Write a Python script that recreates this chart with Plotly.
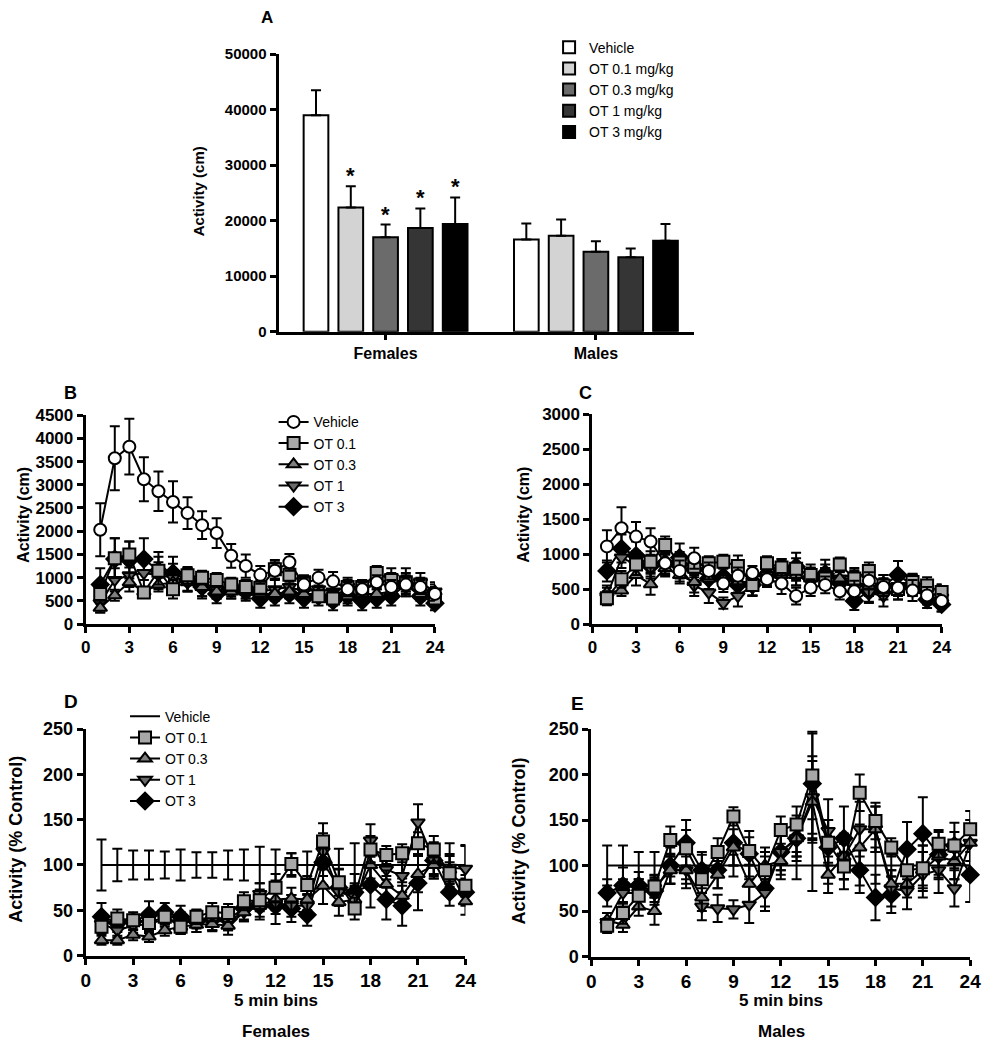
import plotly.graph_objects as go

# ---------------- data ----------------
groups = ["Females", "Males"]
group_pos = [0, 1]
bar_names = ["Vehicle", "OT 0.1 mg/kg", "OT 0.3 mg/kg", "OT 1 mg/kg", "OT 3 mg/kg"]
bar_vehicle = [39000, 16600]
bar_vehicle_err = [4500, 2900]
bar_ot01 = [22400, 17300]
bar_ot01_err = [3800, 2900]
bar_ot03 = [17000, 14400]
bar_ot03_err = [2300, 1900]
bar_ot1 = [18700, 13400]
bar_ot1_err = [3500, 1600]
bar_ot3 = [19400, 16400]
bar_ot3_err = [4800, 3000]
sig_females = [False, True, True, True, True]

bins = list(range(1, 25))
line_names = ["Vehicle", "OT 0.1", "OT 0.3", "OT 1", "OT 3"]

# Panel B: females, cm
veh_B = [2030, 3570, 3820, 3120, 2860, 2630, 2390, 2130, 1960, 1470, 1250, 1060, 1150, 1330, 850, 1000, 920, 750, 750, 900, 800, 850, 800, 650]
veh_B_err = [570, 690, 600, 475, 425, 445, 340, 300, 320, 255, 250, 190, 180, 180, 150, 170, 200, 150, 150, 150, 150, 150, 150, 150]
ot01_B = [650, 1420, 1500, 680, 1150, 750, 1050, 1000, 950, 850, 800, 780, 1180, 1060, 900, 600, 550, 800, 800, 1100, 950, 900, 850, 550]
ot01_B_err = [150, 430, 280, 120, 300, 200, 180, 150, 150, 130, 150, 150, 200, 150, 150, 120, 150, 150, 150, 150, 150, 300, 150, 120]
ot03_B = [350, 620, 900, 700, 850, 900, 900, 800, 700, 700, 700, 650, 650, 700, 650, 650, 600, 600, 650, 650, 700, 850, 650, 700]
ot03_B_err = [100, 120, 200, 100, 150, 150, 180, 200, 150, 150, 150, 150, 150, 150, 150, 150, 150, 150, 150, 150, 150, 150, 150, 150]
ot1_B = [450, 950, 1050, 1100, 1050, 1000, 950, 850, 750, 800, 750, 700, 750, 800, 700, 750, 700, 800, 750, 850, 1000, 850, 900, 700]
ot1_B_err = [200, 250, 250, 300, 280, 300, 250, 250, 200, 200, 200, 200, 200, 200, 200, 200, 200, 200, 200, 200, 200, 200, 200, 200]
ot3_B = [850, 1400, 1380, 1400, 1150, 1100, 950, 800, 650, 750, 700, 550, 600, 650, 550, 600, 500, 600, 500, 550, 600, 850, 600, 450]
ot3_B_err = [350, 450, 400, 450, 400, 350, 250, 250, 200, 200, 200, 200, 200, 200, 200, 200, 200, 200, 200, 200, 200, 250, 200, 150]

# Panel C: males, cm
veh_C = [1110, 1370, 1250, 1180, 870, 760, 940, 760, 580, 690, 730, 640, 580, 400, 520, 560, 470, 470, 620, 530, 520, 480, 410, 330]
veh_C_err = [230, 300, 210, 190, 120, 150, 150, 120, 120, 120, 100, 100, 150, 120, 120, 120, 120, 150, 120, 120, 120, 150, 120, 100]
ot01_C = [370, 640, 850, 890, 1130, 880, 820, 870, 890, 830, 560, 870, 810, 790, 700, 650, 850, 650, 760, 550, 500, 600, 550, 460]
ot01_C_err = [100, 120, 150, 150, 120, 150, 150, 100, 100, 150, 150, 100, 120, 150, 150, 150, 100, 120, 120, 150, 150, 120, 120, 100]
ot03_C = [450, 480, 700, 570, 800, 700, 600, 650, 650, 600, 600, 650, 700, 700, 650, 700, 650, 600, 550, 500, 550, 550, 400, 450]
ot03_C_err = [100, 80, 150, 150, 120, 120, 150, 150, 150, 150, 120, 120, 150, 150, 150, 150, 150, 150, 150, 150, 150, 150, 120, 120]
ot1_C = [400, 950, 850, 800, 850, 800, 550, 450, 300, 400, 550, 700, 750, 700, 600, 650, 650, 650, 450, 400, 500, 550, 450, 300]
ot1_C_err = [120, 150, 150, 150, 150, 150, 150, 150, 80, 150, 150, 150, 150, 150, 150, 150, 150, 150, 150, 150, 150, 150, 150, 120]
ot3_C = [760, 1080, 980, 830, 870, 950, 780, 650, 680, 560, 560, 700, 780, 820, 660, 720, 590, 330, 470, 550, 700, 560, 350, 280]
ot3_C_err = [150, 200, 200, 150, 150, 200, 150, 150, 150, 150, 150, 150, 150, 200, 150, 200, 150, 130, 150, 150, 200, 150, 120, 100]

# Panel D: females, % control
veh_D = [100] * 24
veh_D_err = [28, 18, 16, 16, 15, 17, 14, 14, 16, 17, 20, 17, 13, 15, 12, 18, 24, 15, 12, 15, 12, 12, 24, 22]
ot01_D = [32, 41, 39, 36, 43, 32, 43, 48, 47, 60, 61, 75, 101, 78, 126, 81, 52, 117, 111, 113, 124, 117, 91, 77]
ot01_D_err = [8, 10, 6, 8, 8, 8, 8, 10, 10, 10, 12, 15, 12, 10, 20, 15, 12, 15, 10, 10, 12, 15, 12, 12]
ot03_D = [17, 17, 23, 21, 28, 32, 34, 35, 33, 48, 55, 62, 63, 62, 77, 59, 62, 100, 79, 66, 90, 100, 95, 60]
ot03_D_err = [5, 5, 6, 6, 6, 8, 8, 8, 10, 10, 12, 12, 12, 12, 20, 15, 15, 20, 15, 15, 20, 15, 15, 15]
ot1_D = [35, 28, 33, 35, 40, 38, 38, 38, 38, 48, 68, 58, 55, 55, 115, 70, 65, 127, 95, 88, 147, 105, 97, 96]
ot1_D_err = [10, 8, 8, 10, 8, 10, 8, 10, 10, 10, 12, 12, 12, 12, 20, 15, 15, 18, 20, 18, 20, 15, 15, 25]
ot3_D = [43, 36, 38, 45, 48, 43, 38, 40, 40, 52, 55, 55, 52, 45, 103, 75, 70, 78, 62, 55, 80, 105, 70, 70]
ot3_D_err = [15, 10, 10, 15, 10, 12, 12, 12, 12, 12, 15, 20, 15, 12, 25, 20, 20, 25, 22, 22, 30, 20, 15, 15]

# Panel E: males, % control
veh_E = [100] * 24
veh_E_err = [22, 22, 15, 15, 12, 15, 12, 12, 12, 15, 15, 15, 15, 28, 20, 15, 22, 20, 12, 15, 22, 15, 15, 15]
ot01_E = [34, 48, 67, 77, 128, 119, 85, 115, 154, 116, 95, 139, 145, 199, 125, 99, 180, 149, 120, 95, 97, 124, 122, 140]
ot01_E_err = [8, 12, 15, 12, 15, 20, 15, 15, 10, 15, 15, 15, 20, 48, 25, 25, 20, 20, 10, 20, 25, 15, 15, 20]
ot03_E = [40, 35, 55, 50, 95, 95, 65, 90, 120, 80, 100, 105, 130, 170, 90, 110, 120, 140, 80, 80, 95, 110, 105, 125]
ot03_E_err = [8, 8, 10, 15, 15, 20, 15, 15, 20, 20, 20, 15, 25, 45, 20, 25, 25, 25, 15, 15, 20, 20, 20, 20]
ot1_E = [38, 70, 70, 75, 95, 95, 55, 53, 52, 57, 70, 115, 130, 175, 138, 110, 140, 140, 75, 72, 90, 95, 75, 125]
ot1_E_err = [10, 15, 15, 15, 15, 15, 15, 15, 10, 20, 15, 20, 20, 45, 35, 25, 30, 25, 20, 20, 25, 25, 20, 25]
ot3_E = [70, 78, 78, 72, 100, 125, 95, 95, 125, 113, 75, 115, 130, 190, 120, 130, 95, 65, 68, 118, 135, 112, 122, 90]
ot3_E_err = [15, 20, 15, 15, 20, 25, 20, 20, 25, 25, 25, 20, 20, 55, 30, 35, 25, 25, 20, 30, 40, 25, 25, 30]

# ---------------- styling ----------------
W, H = 992, 1050
FONT = "Liberation Sans, Arial, sans-serif"
BLACK = "#000000"

def fx(p):
    return p / W

def fy(p):
    return 1 - p / H

bar_fills = ["#ffffff", "#d3d3d3", "#6b6b6b", "#353535", "#000000"]
bar_means = [bar_vehicle, bar_ot01, bar_ot03, bar_ot1, bar_ot3]
bar_errs = [bar_vehicle_err, bar_ot01_err, bar_ot03_err, bar_ot1_err, bar_ot3_err]

line_styles = [
    dict(symbol="circle", color="#ffffff", size=12),
    dict(symbol="square", color="#a8a8a8", size=12),
    dict(symbol="triangle-up", color="#7f7f7f", size=12),
    dict(symbol="triangle-down", color="#6a6a6a", size=12),
    dict(symbol="diamond", color="#000000", size=13),
]

fig = go.Figure()

# ---- Panel A bars ----
for i, name in enumerate(bar_names):
    fig.add_trace(go.Bar(
        x=group_pos, y=bar_means[i], name=name,
        marker=dict(color=bar_fills[i], line=dict(color=BLACK, width=2)),
        error_y=dict(type="data", array=bar_errs[i], arrayminus=[0, 0], symmetric=False,
                     color=BLACK, thickness=2, width=5),
        xaxis="x", yaxis="y", legend="legend", legendrank=i + 1,
    ))

BARGAP = 0.173
BARGROUPGAP = 0.29
slot = (1 - BARGAP) / len(bar_names)
annotations = []
for i in range(len(bar_names)):
    if sig_females[i]:
        xc = group_pos[0] - (1 - BARGAP) / 2 + slot * (i + 0.5)
        annotations.append(dict(
            x=xc, y=bar_means[i][0] + bar_errs[i][0], xref="x", yref="y",
            text="*", showarrow=False, yanchor="bottom", yshift=-4,
            font=dict(family=FONT, size=22, color=BLACK, weight="bold")))

# ---- line panels ----
def add_panel(series, errs, xa, ya, legend_name, show_legend, vehicle_line_only=False):
    order = [4, 3, 2, 1, 0] if not vehicle_line_only else [0, 4, 3, 2, 1]
    for i in order:
        st = line_styles[i]
        if vehicle_line_only and i == 0:
            mode = "lines"
            marker = dict(size=1)
        else:
            mode = "lines+markers"
            marker = dict(symbol=st["symbol"], size=st["size"], color=st["color"],
                          line=dict(color=BLACK, width=2))
        fig.add_trace(go.Scatter(
            x=bins, y=series[i], name=line_names[i], mode=mode,
            line=dict(color=BLACK, width=2), marker=marker,
            error_y=dict(type="data", array=errs[i], color=BLACK, thickness=2, width=5),
            xaxis=xa, yaxis=ya, showlegend=show_legend,
            legend=legend_name, legendrank=i + 1, cliponaxis=False,
        ))

add_panel([veh_B, ot01_B, ot03_B, ot1_B, ot3_B],
          [veh_B_err, ot01_B_err, ot03_B_err, ot1_B_err, ot3_B_err], "x2", "y2", "legend2", True)
add_panel([veh_C, ot01_C, ot03_C, ot1_C, ot3_C],
          [veh_C_err, ot01_C_err, ot03_C_err, ot1_C_err, ot3_C_err], "x3", "y3", "legend2", False)
add_panel([veh_D, ot01_D, ot03_D, ot1_D, ot3_D],
          [veh_D_err, ot01_D_err, ot03_D_err, ot1_D_err, ot3_D_err], "x4", "y4", "legend3", True, True)
add_panel([veh_E, ot01_E, ot03_E, ot1_E, ot3_E],
          [veh_E_err, ot01_E_err, ot03_E_err, ot1_E_err, ot3_E_err], "x5", "y5", "legend3", False, True)

# ---- axes ----
def axis_common(size):
    return dict(showline=True, linewidth=3, linecolor=BLACK, ticks="outside", ticklen=6,
                tickwidth=3, tickcolor=BLACK, showgrid=False, zeroline=False,
                tickfont=dict(family=FONT, size=size, color=BLACK, weight="bold"))

layout_axes = {}
# A
layout_axes["xaxis"] = dict(axis_common(16), domain=[fx(278), fx(700)], anchor="y",
                            range=[-0.509, 1.465], tickvals=group_pos, ticktext=groups, ticklen=5)
layout_axes["yaxis"] = dict(axis_common(15), domain=[fy(328), fy(45)], anchor="x",
                            range=[0, 50000], dtick=10000, tickformat="d")
# B
layout_axes["xaxis2"] = dict(axis_common(17), domain=[fx(82), fx(437)], anchor="y2",
                             range=[0, 24], dtick=3)
layout_axes["yaxis2"] = dict(axis_common(17), domain=[fy(626), fy(413)], anchor="x2",
                             range=[0, 4500], dtick=500, tickformat="d")
# C
layout_axes["xaxis3"] = dict(axis_common(17), domain=[fx(597), fx(952)], anchor="y3",
                             range=[0, 24], dtick=3)
layout_axes["yaxis3"] = dict(axis_common(17), domain=[fy(626), fy(412)], anchor="x3",
                             range=[0, 3000], dtick=500, tickformat="d")
# D
layout_axes["xaxis4"] = dict(axis_common(19), domain=[fx(82), fx(468)], anchor="y4",
                             range=[0, 24], dtick=3)
layout_axes["yaxis4"] = dict(axis_common(18), domain=[fy(964), fy(733)], anchor="x4",
                             range=[0, 250], dtick=50)
# E
layout_axes["xaxis5"] = dict(axis_common(19), domain=[fx(596), fx(981)], anchor="y5",
                             range=[0, 24], dtick=3)
layout_axes["yaxis5"] = dict(axis_common(18), domain=[fy(965), fy(733)], anchor="x5",
                             range=[0, 250], dtick=50)

def ann(text, x, y, size, bold=True, angle=0):
    return dict(text=text, x=fx(x), y=fy(y), xref="paper", yref="paper", showarrow=False,
                xanchor="center", yanchor="middle", textangle=angle,
                font=dict(family=FONT, size=size, color=BLACK, weight="bold" if bold else "normal"))

annotations += [
    ann("A", 266, 8, 17),
    ann("B", 67, 390, 18),
    ann("C", 590, 390, 18),
    ann("D", 67, 705, 19),
    ann("E", 582, 707, 19),
    ann("Activity (cm)", 197, 185, 15, angle=-90),
    ann("Activity (cm)", 18, 515, 16, angle=-90),
    ann("Activity (cm)", 527, 515, 16, angle=-90),
    ann("Activity (% Control)", 11, 845, 18, angle=-90),
    ann("Activity (% Control)", 522, 847, 18, angle=-90),
    ann("5 min bins", 275, 1010, 17),
    ann("5 min bins", 789, 1010, 17),
    ann("Females", 275, 1041, 17),
    ann("Males", 789, 1041, 17),
]

legend_font = dict(family=FONT, size=14, color=BLACK)
fig.update_layout(
    width=W, height=H, margin=dict(l=0, r=0, t=0, b=0),
    paper_bgcolor="white", plot_bgcolor="white",
    barmode="group", bargap=BARGAP, bargroupgap=BARGROUPGAP,
    font=dict(family=FONT, color=BLACK),
    showlegend=True,
    legend=dict(x=fx(553), y=fy(22), xanchor="left", yanchor="top", font=legend_font,
                bgcolor="rgba(0,0,0,0)", tracegroupgap=0),
    legend2=dict(x=fx(273), y=fy(404), xanchor="left", yanchor="top", font=legend_font,
                 bgcolor="rgba(0,0,0,0)", tracegroupgap=0),
    legend3=dict(x=fx(122), y=fy(704), xanchor="left", yanchor="top", font=legend_font,
                 bgcolor="rgba(0,0,0,0)", tracegroupgap=0),
    annotations=annotations,
    **layout_axes,
)

fig.write_html("out.html", config={"displayModeBar": False},
               post_script="document.body.style.margin='0px';document.body.style.overflow='hidden';")
